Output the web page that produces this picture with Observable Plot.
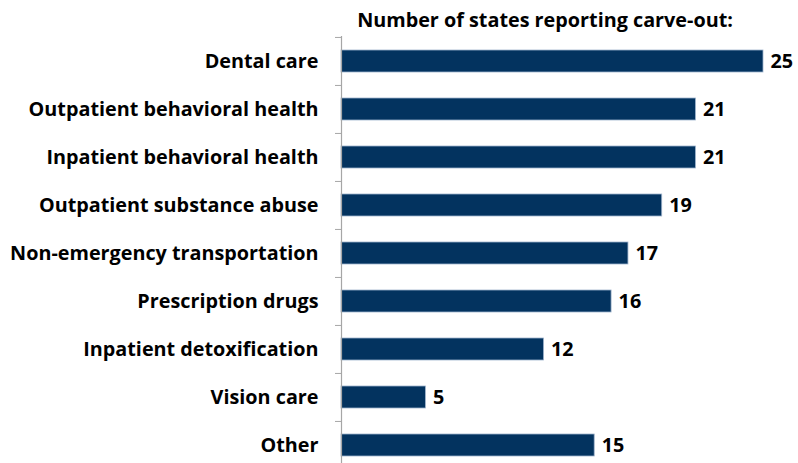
<!DOCTYPE html>
<html>
<head>
<meta charset="utf-8">
<script src="https://cdn.jsdelivr.net/npm/d3@7"></script>
<script src="https://cdn.jsdelivr.net/npm/@observablehq/plot@0.6"></script>
<style>
  html, body { margin: 0; padding: 0; background: #fff; overflow: hidden; }
  #wrap { position: relative; width: 798px; }
  #title { position: relative; height: 36px; font-family: "Open Sans", sans-serif; font-weight: 700; font-size: 19.8px; color: #000; line-height: 27px; }
  #title span { position: absolute; left: 545px; top: 6px; transform: translateX(-50%); white-space: nowrap; }
</style>
</head>
<body>
<div id="wrap">
  <div id="title"><span>Number of states reporting carve-out:</span></div>
  <div id="chart"></div>
</div>
<script>
const categories = [
  "Dental care",
  "Outpatient behavioral health",
  "Inpatient behavioral health",
  "Outpatient substance abuse",
  "Non-emergency transportation",
  "Prescription drugs",
  "Inpatient detoxification",
  "Vision care",
  "Other"
];
const values = [25, 21, 21, 19, 17, 16, 12, 5, 15];

const data = categories.map((c, i) => ({category: c, value: values[i]}));
const bandHeight = 433;
const step = bandHeight / categories.length;
const fontStack = "'Open Sans', sans-serif";

const chart = Plot.plot({
  width: 798,
  height: bandHeight,
  marginLeft: 341,
  marginRight: 35,
  marginTop: 0,
  marginBottom: 0,
  style: {fontFamily: fontStack, background: "#fff", overflow: "visible"},
  x: {domain: [0, 25], axis: null},
  y: {domain: categories, paddingInner: 0.55, paddingOuter: 0.275, axis: null, label: null},
  marks: [
    Plot.barX(data, {y: "category", x: "value", fill: "#03335f", stroke: "#9fb3cc", strokeWidth: 0.8}),
    Plot.ruleX([0], {stroke: "#a6a6a6", strokeWidth: 1.2}),
    Plot.axisY({anchor: "left", tickSize: 6, text: null, label: null, dy: -step / 2, stroke: "#a6a6a6"}),
    Plot.axisY({anchor: "left", tickSize: 0, tickPadding: 23, fontSize: 19.8, fontWeight: "bold", fill: "#000", label: null}),
    Plot.text(data, {y: "category", x: "value", text: d => String(d.value), dx: 7, textAnchor: "start", fontSize: 19.8, fontWeight: "bold", fill: "#000"})
  ]
});
document.getElementById("chart").appendChild(chart);
</script>
</body>
</html>
